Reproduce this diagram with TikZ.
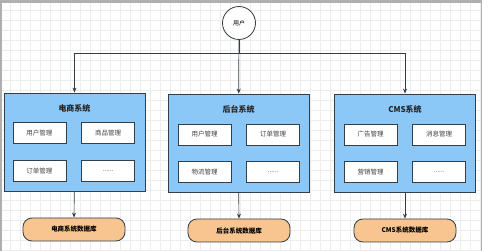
\documentclass[tikz,border=0pt]{standalone}
\usepackage{fontspec}
\setmainfont{Noto Sans CJK SC}
\usepackage{tikz}
\usetikzlibrary{positioning, arrows.meta}
\definecolor{sysblue}{RGB}{140, 200, 247}
\definecolor{edgedark}{RGB}{50, 62, 72}
\definecolor{dborange}{RGB}{248, 196, 144}
\definecolor{gridgray}{RGB}{236, 236, 236}
\definecolor{framegray}{RGB}{175, 175, 175}

\tikzset{
  sysbox/.style={draw=edgedark, fill=sysblue, line width=0.8pt, minimum width=141pt, minimum height=98pt, inner sep=0pt},
  modbox/.style={draw=edgedark, fill=white, line width=0.7pt, minimum width=53pt, minimum height=21pt, inner sep=0pt, font=\fontsize{6.5}{7}\selectfont, text=black!75},
  dbbox/.style={draw=edgedark, fill=dborange, line width=0.8pt, rounded corners=9pt, minimum width=102pt, minimum height=23pt, inner sep=0pt, font=\bfseries\fontsize{6.5}{7}\selectfont},
  systitle/.style={font=\bfseries\fontsize{8}{9}\selectfont, text=black!85},
  flow/.style={-{Stealth[length=5pt, width=4pt]}, draw=edgedark, line width=0.7pt}
}

\begin{document}
\begin{tikzpicture}[x=1pt, y=-1pt]
    \useasboundingbox (0,0) rectangle (499,251);
    % background grid and frame
    \fill[white] (0,0) rectangle (499,251);
    \draw[gridgray, line width=0.4pt, step=10pt] (1,3) grid (481,251);
    \fill[framegray] (0,0) rectangle (482,3);
    \draw[framegray, line width=1.2pt] (1,0) -- (1,251);
    \draw[framegray, line width=1.2pt] (481.5,0) -- (481.5,251);

    % user
    \node[draw=edgedark, fill=white, circle, line width=0.8pt, minimum size=33pt, inner sep=0pt, font=\fontsize{6}{7}\selectfont] (user) at (239,23) {用户};

    % systems
    \node[sysbox] (shop) at (74.5,142) {};
    \node[sysbox] (admin) at (238.5,143) {};
    \node[sysbox] (cms) at (405,143) {};
    \node[systitle] (shopT) at (74.5,108) {电商系统};
    \node[systitle] (adminT) at (238.5,109) {后台系统};
    \node[systitle] (cmsT) at (405,109) {CMS系统};

    % modules
    \node[modbox] (shopA) at (39.5,133) {用户管理};
    \node[modbox, right=15pt of shopA] (shopB) {商品管理};
    \node[modbox, below=16pt of shopA] (shopC) {订单管理};
    \node[modbox, right=15pt of shopC] (shopD) {......};
    \node[modbox] (adminA) at (204.5,134.5) {用户管理};
    \node[modbox, right=15pt of adminA] (adminB) {订单管理};
    \node[modbox, below=16pt of adminA] (adminC) {物流管理};
    \node[modbox, right=15pt of adminC] (adminD) {......};
    \node[modbox] (cmsA) at (370.5,134.5) {广告管理};
    \node[modbox, right=15pt of cmsA] (cmsB) {消息管理};
    \node[modbox, below=16pt of cmsA] (cmsC) {营销管理};
    \node[modbox, right=15pt of cmsC] (cmsD) {......};

    % databases
    \node[dbbox] (shopDB) at (74,229.5) {电商系统数据库};
    \node[dbbox] (adminDB) at (239,230.5) {后台系统数据库};
    \node[dbbox] (cmsDB) at (405,230.5) {CMS系统数据库};

    % connectors
    \coordinate (split) at (239,53);
    \draw[flow] (user) -- (admin);
    \draw[flow] (user.south) |- (split) -| (shop.north);
    \draw[flow] (split) -| (cms.north);
    \draw[flow] (shop) -- (shopDB);
    \draw[flow] (admin) -- (adminDB);
    \draw[flow] (cms) -- (cmsDB);
\end{tikzpicture}
\end{document}
